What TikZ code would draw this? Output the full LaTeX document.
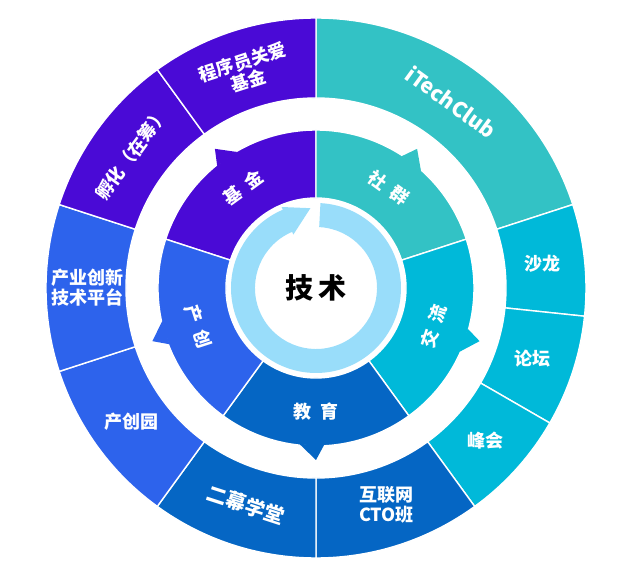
\documentclass[tikz,border=0pt]{standalone}
\usepackage{fontspec}
\setmainfont{Noto Sans CJK SC}
\definecolor{fundc}{HTML}{4A0AD6}
\definecolor{clubc}{HTML}{33C2C5}
\definecolor{talkc}{HTML}{00B9D9}
\definecolor{educ}{HTML}{0566C4}
\definecolor{indc}{HTML}{2D63EC}
\definecolor{ringc}{HTML}{99DDFA}
\newcommand{\sector}[5]{%
  \fill[#1, draw=white, line width=1.4pt] (#2:#4pt) arc[start angle=#2, end angle=#3, radius=#4pt]
    -- (#3:#5pt) arc[start angle=#3, end angle=#2, radius=#5pt] -- cycle;}
\tikzset{
  inlabel/.style={text=white, font=\bfseries\fontsize{18}{20}\selectfont},
  outlabel/.style={text=white, font=\bfseries\fontsize{18}{20}\selectfont, align=center},
}
\begin{document}
\begin{tikzpicture}
\useasboundingbox (-316pt,-287pt) rectangle (306pt,288pt);
% outer ring
\sector{clubc}{18}{90}{190}{270}
\sector{talkc}{-6}{18}{190}{270}
\sector{talkc}{-30}{-6}{190}{270}
\sector{talkc}{-54}{-30}{190}{270}
\sector{educ}{-90}{-54}{190}{270}
\sector{educ}{-126}{-90}{190}{270}
\sector{indc}{-162}{-126}{190}{270}
\sector{indc}{162}{198}{190}{270}
\sector{fundc}{126}{162}{190}{270}
\sector{fundc}{90}{126}{190}{270}
% middle ring
\sector{fundc}{90}{162}{90}{158}
\sector{clubc}{18}{90}{90}{158}
\sector{talkc}{-54}{18}{90}{158}
\sector{educ}{-126}{-54}{90}{158}
\sector{indc}{162}{234}{90}{158}
% tabs on the white ring
\foreach \a/\c in {126/fundc, 54/clubc, -18/talkc, -90/educ, 198/indc}
  \fill[\c] (\a+3:157pt) -- (\a:172pt) -- (\a-6:157pt) -- cycle;
% inner arrow ring
\fill[ringc] (87:85pt) arc[start angle=87, end angle=-248, radius=85pt]
  -- (-248:61pt) arc[start angle=-248, end angle=87, radius=61pt] -- cycle;
\fill[ringc] (113:58pt) -- (113:88pt) -- (94:80pt) -- cycle;
\node[font=\bfseries\fontsize{28}{30}\selectfont] (tech) at (0,0) {技\,术};
% middle labels
\node[inlabel, rotate=36] (fund) at (126:124pt) {基\enspace 金};
\node[inlabel, rotate=-36] (club) at (54:124pt) {社\enspace 群};
\node[inlabel, rotate=72] (talk) at (-18:124pt) {交\enspace 流};
\node[inlabel] (edu) at (-90:124pt) {教\enspace 育};
\node[inlabel, rotate=-72] (ind) at (198:124pt) {产\enspace 创};
% outer labels
\node[outlabel, rotate=-36, font=\bfseries\fontsize{21}{23}\selectfont] (itc) at (54:230pt) {iTechClub};
\node[outlabel] (salon) at (6:228pt) {沙龙};
\node[outlabel] (forum) at (-18:228pt) {论坛};
\node[outlabel] (summit) at (-42:228pt) {峰会};
\node[outlabel] (cto) at (-72:228pt) {互联网\\CTO班};
\node[outlabel, rotate=-18, font=\bfseries\fontsize{20}{22}\selectfont] (school) at (-108:228pt) {二幕学堂};
\node[outlabel] (park) at (-144:228pt) {产创园};
\node[outlabel] (platform) at (180:228pt) {产业创新\\技术平台};
\node[outlabel, rotate=54] (incub) at (144:228pt) {孵化（在筹）};
\node[outlabel, rotate=18] (care) at (108:228pt) {程序员关爱\\基金};
\end{tikzpicture}
\end{document}
